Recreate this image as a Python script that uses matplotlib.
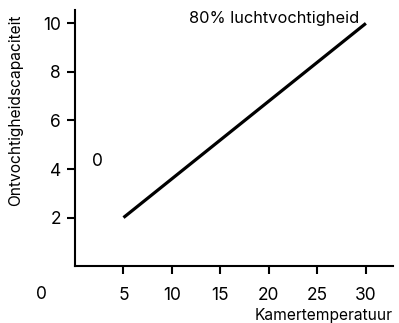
import matplotlib
matplotlib.use("Agg")
import matplotlib.pyplot as plt

temperature = [5, 30]
capacity = [2, 10]
x_ticks = [5, 10, 15, 20, 25, 30]
y_ticks = [2, 4, 6, 8, 10]

plt.rcParams["font.family"] = ["Inter", "DejaVu Sans"]

fig = plt.figure(figsize=(3.99, 3.23), dpi=100)
ax = fig.add_axes([0.188, 0.176, 0.797, 0.793])

ax.plot(temperature, capacity, color="black", linewidth=2.3, solid_capstyle="butt")

ax.set_xlim(0, 32.8)
ax.set_ylim(0, 10.55)
ax.set_xticks(x_ticks)
ax.set_yticks(y_ticks)
ax.tick_params(axis="both", direction="out", length=6, width=1.5, labelsize=12.5, colors="black")
ax.tick_params(axis="x", pad=9)
ax.tick_params(axis="y", pad=4)

for side in ["top", "right"]:
    ax.spines[side].set_visible(False)
for side in ["left", "bottom"]:
    ax.spines[side].set_linewidth(1.5)

# origin label and stray zero
ax.text(-3.5, -1.15, "0", fontsize=12.5, ha="center", va="center", clip_on=False)
ax.text(2.3, 4.3, "0", fontsize=12.5, ha="center", va="center")

ax.text(0.626, 0.966, "80% luchtvochtigheid", transform=ax.transAxes, fontsize=11.8,
        ha="center", va="center")

fig.text(0.04, 0.66, "Ontvochtigheidscapaciteit", rotation=90, fontsize=11.2,
         ha="center", va="center")
fig.text(0.985, 0.022, "Kamertemperatuur", fontsize=11.2, ha="right", va="center")

fig.savefig("out.png", dpi=100)
